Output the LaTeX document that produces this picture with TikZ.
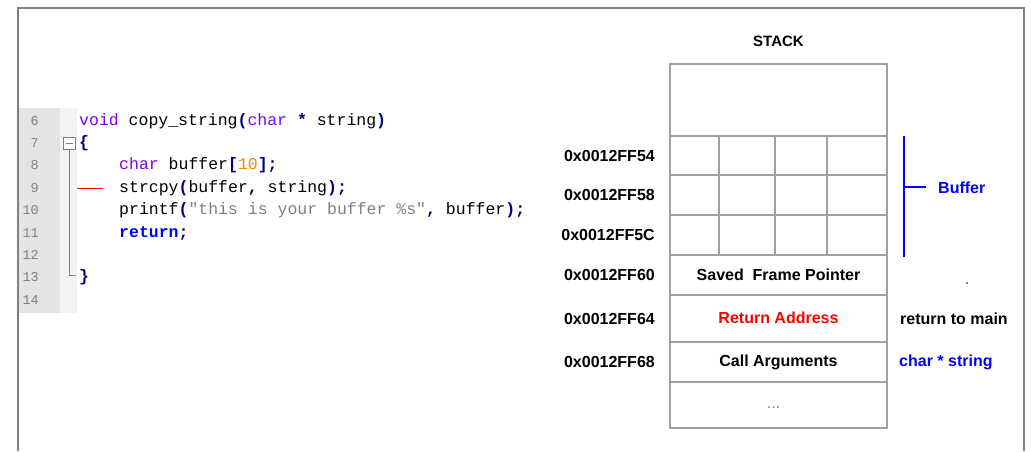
\documentclass[tikz,border=0pt]{standalone}
\usepackage{fontspec}
\setmainfont{Liberation Sans}
\setmonofont{Liberation Mono}
\usepackage{tikz}
\usetikzlibrary{positioning}

\definecolor{frameg}{HTML}{7F7F7F}
\definecolor{cellg}{HTML}{A0A0A0}
\definecolor{typeP}{HTML}{8000FF}
\definecolor{opN}{HTML}{000080}
\definecolor{numO}{HTML}{FF8000}
\definecolor{strG}{HTML}{808080}
\definecolor{gutterg}{HTML}{E4E4E4}
\definecolor{foldg}{HTML}{F3F3F3}
\definecolor{bufblue}{HTML}{0000FF}

% code colouring
\newcommand{\ktype}[1]{\textcolor{typeP}{#1}}
\newcommand{\kop}[1]{\textcolor{opN}{\bfseries #1}}
\newcommand{\knum}[1]{\textcolor{numO}{#1}}
\newcommand{\kstr}[1]{\textcolor{strG}{#1}}
\newcommand{\kret}[1]{\textcolor{bufblue}{\bfseries #1}}

\begin{document}
\begin{tikzpicture}[x=1pt, y=-1pt,
        cell/.style={rectangle, draw=cellg, line width=1.3pt, minimum width=217pt,
                     inner sep=0pt, outer sep=0pt,
                     font=\fontsize{16}{19}\selectfont\bfseries},
        addr/.style={inner sep=0pt, font=\fontsize{16}{19}\selectfont\bfseries},
        code/.style={inner sep=0pt, anchor=base west,
                     font=\fontsize{16.5}{20}\selectfont\ttfamily},
        lnum/.style={inner sep=0pt, anchor=base east, text=strG,
                     font=\fontsize{13.5}{16}\selectfont\ttfamily},
        grid/.style={draw=cellg, line width=1.3pt},
        brace/.style={draw=bufblue, line width=1.3pt}
    ]
        \useasboundingbox (0,0) rectangle (1031,451);
        \draw[frameg, line width=1.5pt] (18,451) -- (18,8) -- (1024,8) -- (1024,451);

        % editor gutter
        \fill[gutterg] (19,108) rectangle (60,313);
        \fill[foldg] (60,108) rectangle (77,313);
        \foreach \n [count=\i from 0] in {6,...,14}
            \node[lnum] (n\n) at (39,{125+22.4*\i}) {\n};
        \node[rectangle, draw=strG, fill=white, line width=0.8pt, minimum size=12pt,
              inner sep=0pt] (fold) at (69.5,143.3) {};
        \draw[strG, line width=0.8pt] ([xshift=3pt]fold.west) -- ([xshift=-3pt]fold.east);
        \coordinate (foldend) at (69.5,275);
        \draw[strG, line width=0.8pt] (fold.south) -- (foldend) -- ++(6.5,0);
        \draw[red, line width=1pt] (77,188) -- (103,188);

        % source lines
        \node[code] (c6) at (79,125) {\ktype{void} copy\_string\kop{(}\ktype{char} \kop{*} string\kop{)}};
        \node[code] (c7) at (79,147.4) {\kop{\{}};
        \node[code] (c8) at (119,169.8) {\ktype{char} buffer\kop{[}\knum{10}\kop{];}};
        \node[code] (c9) at (119,192.2) {strcpy\kop{(}buffer\kop{,} string\kop{);}};
        \node[code] (c10) at (119,214.6) {printf\kop{(}\kstr{"this is your buffer \%s"}\kop{,} buffer\kop{);}};
        \node[code] (c11) at (119,237) {\kret{return}\kop{;}};
        \node[code] (c13) at (79,281.8) {\kop{\}}};

        % stack frame
        \node[cell, minimum height=72pt, anchor=north] (top) at (778.5,64) {};
        \node[cell, minimum height=39pt, below=0pt of top] (b1) {};
        \node[cell, minimum height=40pt, below=0pt of b1] (b2) {};
        \node[cell, minimum height=40pt, below=0pt of b2] (b3) {};
        \node[cell, minimum height=40pt, below=0pt of b3] (sfp) {Saved\ \ Frame Pointer};
        \node[cell, minimum height=47pt, below=0pt of sfp, text=red] (ret) {\raisebox{2pt}{Return Address}};
        \node[cell, minimum height=40pt, below=0pt of ret] (args) {Call Arguments};
        \node[cell, minimum height=46pt, below=0pt of args, text=strG,
              font=\fontsize{16}{19}\selectfont] (more) {\hspace*{-10pt}\raisebox{-6pt}{...}};
        \foreach \cx in {719,775,827}
            \draw[grid] (\cx,0 |- b1.north) -- (\cx,0 |- b3.south);

        \node[addr, above=17pt of top, font=\fontsize{15}{18}\selectfont\bfseries] (stack) {STACK};

        \node[addr, left=15pt of b1] (a54) {0x0012FF54};
        \node[addr, left=15pt of b2] (a58) {0x0012FF58};
        \node[addr, left=15pt of b3] (a5c) {0x0012FF5C};
        \node[addr, left=15pt of sfp] (a60) {0x0012FF60};
        \node[addr, left=15pt of ret] (a64) {0x0012FF64};
        \node[addr, left=15pt of args] (a68) {0x0012FF68};

        \node[addr, right=13pt of ret] (retmain) {return to main};
        \node[addr, right=12pt of args, text=bufblue] (argstr) {char * string};

        % buffer bracket
        \coordinate (brtop) at ([xshift=17pt]b1.north east);
        \coordinate (brbot) at ([xshift=17pt, yshift=-2pt]b3.south east);
        \coordinate (brmid) at (904,187);
        \coordinate (brtip) at (926,187);
        \node[addr, text=bufblue, anchor=west] (buf) at (938,188) {Buffer};
        \draw[brace] (brtop) -- (brbot);
        \draw[brace] (brmid) -- (brtip);
        \fill (967,283) circle (0.9pt);
    \end{tikzpicture}
\end{document}
